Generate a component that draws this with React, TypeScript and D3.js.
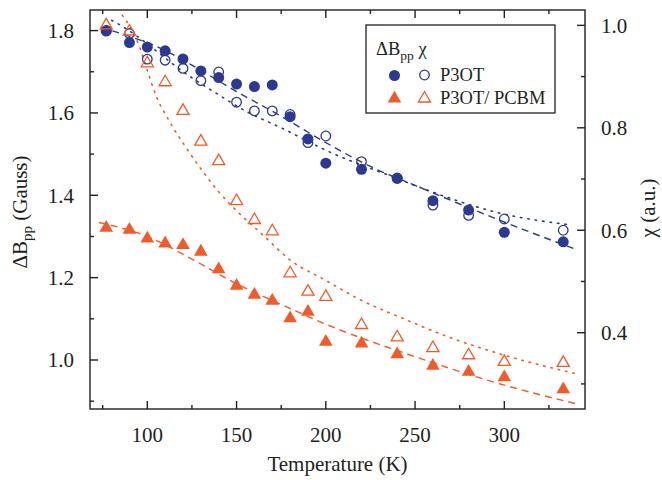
import * as d3 from 'd3';

// temperatures (K) of the measured points
const temps = [77, 90, 100, 110, 120, 130, 140, 150, 160, 170, 180, 190, 200, 220, 240, 260, 280, 300, 333];

// linewidth ΔBpp (Gauss), left axis
const p3otWidth = [1.799, 1.771, 1.760, 1.751, 1.731, 1.702, 1.686, 1.670, 1.664, 1.668, 1.591, 1.537, 1.478, 1.463, 1.441, 1.387, 1.364, 1.310, 1.287];
const blendWidth = [1.321, 1.316, 1.295, 1.283, 1.279, 1.263, 1.220, 1.180, 1.158, 1.144, 1.101, 1.117, 1.044, 1.040, 1.014, 0.986, 0.971, 0.958, 0.929];

// susceptibility χ (a.u.), right axis
const p3otChi = [0.990, 0.984, 0.934, 0.932, 0.916, 0.892, 0.909, 0.850, 0.833, 0.833, 0.826, 0.771, 0.784, 0.734, 0.702, 0.649, 0.629, 0.622, 0.600];
const blendChi = [1.000, 0.988, 0.926, 0.889, 0.833, 0.773, 0.735, 0.657, 0.620, 0.598, 0.516, 0.480, 0.470, 0.415, 0.391, 0.370, 0.356, 0.343, 0.341];

// fit curves: [T, value]
const p3otWidthFit: [number, number][] = [[74, 1.808], [90, 1.786], [105, 1.762], [125, 1.716], [150, 1.652], [175, 1.592], [200, 1.528], [225, 1.470], [250, 1.424], [280, 1.370], [310, 1.318], [340, 1.269]];
const blendWidthFit: [number, number][] = [[73, 1.334], [100, 1.300], [125, 1.245], [150, 1.185], [175, 1.135], [200, 1.087], [250, 1.008], [300, 0.939], [340, 0.894]];
const p3otChiFit: [number, number][] = [[80, 1.010], [86, 0.998], [124, 0.900], [137, 0.871], [156, 0.831], [175, 0.800], [202, 0.753], [240, 0.701], [251, 0.686], [298, 0.633], [338, 0.610]];
const blendChiFit: [number, number][] = [[86, 1.020], [96, 0.955], [100, 0.912], [105, 0.862], [112, 0.815], [122, 0.760], [130, 0.720], [140, 0.675], [150, 0.638], [165, 0.590], [180, 0.542], [200, 0.502], [220, 0.463], [241, 0.431], [270, 0.390], [300, 0.356], [340, 0.320]];

const xTicks = [100, 150, 200, 250, 300];
const xMinor = [75, 125, 175, 225, 275, 325];
const leftTicks = [1.0, 1.2, 1.4, 1.6, 1.8];
const leftMinor = [0.9, 1.1, 1.3, 1.5, 1.7];
const rightTicks = [0.4, 0.6, 0.8, 1.0];
const rightMinor = [0.3, 0.5, 0.7, 0.9];

const BLUE = '#2b3990';
const ORANGE = '#f15a29';
const INK = '#231f20';
const SERIF = 'Liberation Serif';

export default function App() {
  const width = 662;
  const height = 480;
  const left = 90, right = 585, top = 10, bottom = 409;

  const x = d3.scaleLinear().domain([67.9, 345.2]).range([left, right]);
  const yL = d3.scaleLinear().domain([0.881, 1.85]).range([bottom, top]);
  const yR = d3.scaleLinear().domain([0.251, 1.03]).range([bottom, top]);

  const lineL = d3.line<[number, number]>().x(d => x(d[0])).y(d => yL(d[1])).curve(d3.curveMonotoneX);
  const lineR = d3.line<[number, number]>().x(d => x(d[0])).y(d => yR(d[1])).curve(d3.curveMonotoneX);

  const circle = d3.symbol().type(d3.symbolCircle).size(95)();
  const circleOpen = d3.symbol().type(d3.symbolCircle).size(72)();
  const tri = d3.symbol().type(d3.symbolTriangle).size(80)();
  const triOpen = d3.symbol().type(d3.symbolTriangle).size(64)();

  const major = 8;
  const minor = 4;

  return (
    <svg width={width} height={height} fontFamily={SERIF} style={{ position: 'absolute', left: 0, top: 0, background: '#fff' }}>
      <defs>
        <clipPath id="plot">
          <rect x={left} y={top} width={right - left} height={bottom - top} />
        </clipPath>
      </defs>

      {/* fits */}
      <g clipPath="url(#plot)" fill="none" strokeWidth={1.4}>
        <path d={lineL(p3otWidthFit) || ''} stroke={BLUE} strokeDasharray="7,5" />
        <path d={lineR(p3otChiFit) || ''} stroke={BLUE} strokeDasharray="1.5,6" strokeLinecap="round" strokeWidth={1.6} />
        <path d={lineL(blendWidthFit) || ''} stroke={ORANGE} strokeDasharray="7,5" />
        <path d={lineR(blendChiFit) || ''} stroke={ORANGE} strokeDasharray="1.5,6" strokeLinecap="round" strokeWidth={1.6} />
      </g>

      {/* points */}
      <g>
        {temps.map((t, i) => (
          <path key={'bo' + t} d={circleOpen || ''} transform={`translate(${x(t)},${yR(p3otChi[i])})`} fill="none" stroke={BLUE} strokeWidth={1.3} />
        ))}
        {temps.map((t, i) => (
          <path key={'bf' + t} d={circle || ''} transform={`translate(${x(t)},${yL(p3otWidth[i])})`} fill={BLUE} />
        ))}
        {temps.map((t, i) => (
          <path key={'of' + t} d={tri || ''} transform={`translate(${x(t)},${yL(blendWidth[i])})`} fill={ORANGE} />
        ))}
        {temps.map((t, i) => (
          <path key={'oo' + t} d={triOpen || ''} transform={`translate(${x(t)},${yR(blendChi[i])})`} fill="none" stroke={ORANGE} strokeWidth={1.3} />
        ))}
      </g>

      {/* frame and ticks */}
      <g stroke={INK} strokeWidth={1.4}>
        <rect x={left} y={top} width={right - left} height={bottom - top} fill="none" />
        {xTicks.map(t => (
          <g key={'xt' + t}>
            <line x1={x(t)} x2={x(t)} y1={bottom} y2={bottom - major} />
            <line x1={x(t)} x2={x(t)} y1={top} y2={top + major} />
          </g>
        ))}
        {xMinor.map(t => (
          <g key={'xm' + t}>
            <line x1={x(t)} x2={x(t)} y1={bottom} y2={bottom - minor} />
            <line x1={x(t)} x2={x(t)} y1={top} y2={top + minor} />
          </g>
        ))}
        {leftTicks.map(v => (
          <line key={'lt' + v} x1={left} x2={left + major} y1={yL(v)} y2={yL(v)} />
        ))}
        {leftMinor.map(v => (
          <line key={'lm' + v} x1={left} x2={left + minor} y1={yL(v)} y2={yL(v)} />
        ))}
        {rightTicks.map(v => (
          <line key={'rt' + v} x1={right} x2={right - major} y1={yR(v)} y2={yR(v)} />
        ))}
        {rightMinor.map(v => (
          <line key={'rm' + v} x1={right} x2={right - minor} y1={yR(v)} y2={yR(v)} />
        ))}
      </g>

      {/* tick labels */}
      {xTicks.map(t => (
        <text key={'xl' + t} x={x(t)} y={442} fontSize={21} fontFamily={SERIF} fill={INK} textAnchor="middle">{t}</text>
      ))}
      {leftTicks.map(v => (
        <text key={'ll' + v} x={74} y={yL(v)} dy="0.35em" fontSize={21} fontFamily={SERIF} fill={INK} textAnchor="end">{v.toFixed(1)}</text>
      ))}
      {rightTicks.map(v => (
        <text key={'rl' + v} x={601} y={yR(v)} dy="0.35em" fontSize={21} fontFamily={SERIF} fill={INK} textAnchor="start">{v.toFixed(1)}</text>
      ))}

      {/* axis titles */}
      <text x={(left + right) / 2} y={471} fontSize={21} fontFamily={SERIF} fill={INK} textAnchor="middle">Temperature (K)</text>
      <text transform={`translate(27,212) rotate(-90)`} fontSize={21} fontFamily={SERIF} fill={INK} textAnchor="middle">
        ΔB<tspan fontSize={15} dy={5}>pp</tspan><tspan dy={-5}> (Gauss)</tspan>
      </text>
      <text transform={`translate(655,208) rotate(-90)`} fontSize={21} fontFamily={SERIF} fill={INK} textAnchor="middle">χ (a.u.)</text>

      {/* legend */}
      <rect x={366} y={25} width={189} height={88} fill="#fff" stroke={INK} strokeWidth={1.3} />
      <text x={376} y={55} fontSize={18.5} fontFamily={SERIF} fill={INK}>
        ΔB<tspan fontSize={13.5} dy={5}>pp</tspan><tspan dy={-5}> χ</tspan>
      </text>
      <path d={circle || ''} transform="translate(394.5,75.5)" fill={BLUE} />
      <path d={circleOpen || ''} transform="translate(424.5,75)" fill="none" stroke={BLUE} strokeWidth={1.3} />
      <text x={440} y={81} fontSize={18.5} fontFamily={SERIF} fill={INK}>P3OT</text>
      <path d={tri || ''} transform="translate(394.5,98.5)" fill={ORANGE} />
      <path d={triOpen || ''} transform="translate(424.5,98.5)" fill="none" stroke={ORANGE} strokeWidth={1.3} />
      <text x={440} y={104} fontSize={18.5} fontFamily={SERIF} fill={INK}>P3OT/ PCBM</text>
    </svg>
  );
}
